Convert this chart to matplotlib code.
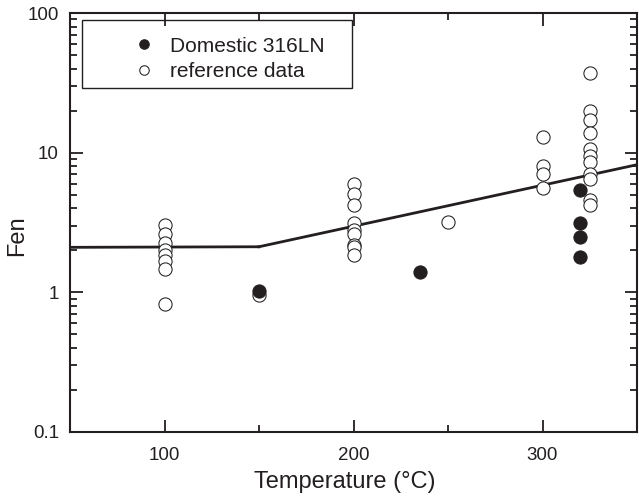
import matplotlib.pyplot as plt
import numpy as np
from matplotlib.patches import Rectangle
from matplotlib.ticker import FixedLocator, LogLocator, NullFormatter

plt.rcParams['font.family'] = ['Liberation Sans', 'DejaVu Sans']

# reference data (open circles)
ref_T = [100]*8 + [150] + [200]*9 + [250] + [300]*4 + [325]*11
ref_Fen = [3.05, 2.6, 2.27, 2.02, 1.86, 1.69, 1.46, 0.83,
           0.96,
           6.0, 5.05, 4.25, 3.15, 2.8, 2.6, 2.2, 2.1, 1.86,
           3.2,
           12.9, 8.0, 7.0, 5.6,
           37.0, 20.0, 17.2, 13.8, 10.7, 9.4, 8.6, 7.0, 6.5, 4.6, 4.25]

# Domestic 316LN (filled circles)
dom_T = [150, 235, 320, 320, 320, 320]
dom_Fen = [1.02, 1.4, 5.4, 3.15, 2.47, 1.8]

# trend line
line1_T = [50, 150]
line1_Fen = [2.1, 2.12]
line2_T = [150, 350]
line2_Fen = [2.12, 8.2]

ink = '#231f20'

fig = plt.figure(figsize=(6.39, 4.96), dpi=100)
ax = fig.add_axes([70/639, 1-432/496, 567/639, 419/496])

ax.plot(line1_T, line1_Fen, color=ink, lw=2.0, zorder=1)
ax.plot(line2_T, line2_Fen, color=ink, lw=2.0, zorder=1)
ax.plot(ref_T, ref_Fen, 'o', ms=9.5, mfc='white', mec=ink, mew=0.75,
        ls='none', zorder=2, label='reference data')
ax.plot(dom_T, dom_Fen, 'o', ms=9.5, mfc=ink, mec=ink, mew=0.75,
        ls='none', zorder=3, label='Domestic 316LN')

ax.set_yscale('log')
ax.set_xlim(50, 350)
ax.set_ylim(0.1, 100)
ax.set_xticks([100, 200, 300])
ax.xaxis.set_minor_locator(FixedLocator([150, 250]))
ax.set_yticks([0.1, 1, 10, 100])
ax.set_yticklabels(['0.1', '1', '10', '100'])
ax.yaxis.set_minor_locator(LogLocator(base=10, subs=np.arange(2, 10)))
ax.yaxis.set_minor_formatter(NullFormatter())

ax.tick_params(which='both', direction='in', top=True, right=True,
               width=1.3, colors=ink, labelcolor=ink)
ax.tick_params(which='major', length=9, labelsize=13.5)
ax.tick_params(which='minor', length=5)
ax.tick_params(axis='x', which='major', pad=10.5)
ax.tick_params(axis='y', which='major', pad=8)
for s in ax.spines.values():
    s.set_linewidth(1.5)
    s.set_color(ink)

ax.set_xlabel('Temperature (\u00b0C)', fontsize=17, color=ink)
ax.set_ylabel('Fen', fontsize=17, color=ink, va='center')
ax.xaxis.set_label_coords((345-70)/567, -(482-432)/419)
ax.yaxis.set_label_coords((17-70)/567, 1-(236-13)/419)
ax.xaxis.label.set_va('center')

# legend: frame drawn separately so the entries can sit where they do in the figure
h, l = ax.get_legend_handles_labels()
leg = ax.legend(h[::-1], l[::-1], loc='center left',
                bbox_to_anchor=((133.6-70)/567, 1-(59-13)/419),
                fontsize=15, frameon=False, markerscale=0.72, borderpad=0,
                handletextpad=0.75, labelspacing=0.32, handlelength=1.0,
                borderaxespad=0)
for t in leg.get_texts():
    t.set_color(ink)
ax.add_patch(Rectangle(((82-70)/567, 1-(88-13)/419), 270/567, 68/419,
                       transform=ax.transAxes, fill=False, ec=ink, lw=1.0,
                       zorder=4))

fig.savefig('out.png', dpi=100)
